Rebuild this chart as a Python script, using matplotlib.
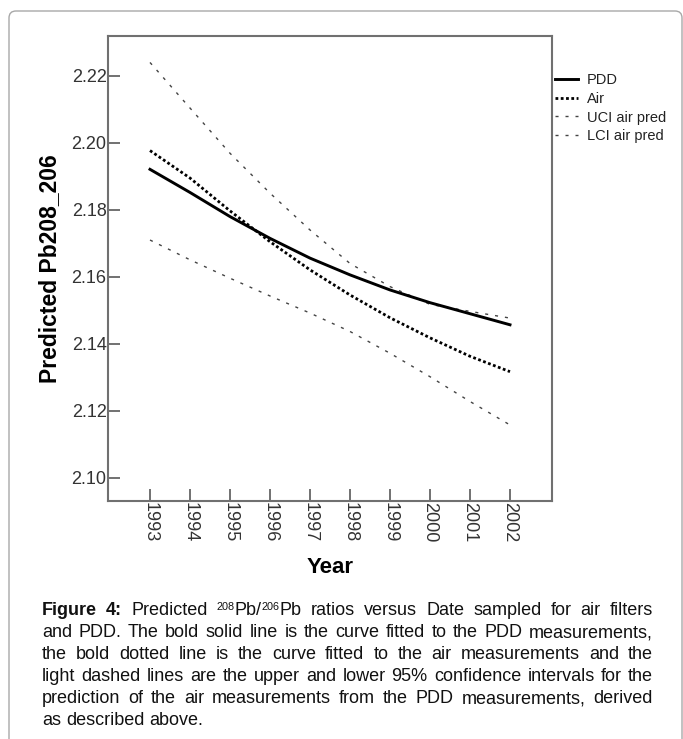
import matplotlib
matplotlib.use("Agg")
import matplotlib.pyplot as plt
from matplotlib.patches import FancyBboxPatch
from matplotlib.transforms import IdentityTransform

# ---------------- data ----------------
years = [1993, 1994, 1995, 1996, 1997, 1998, 1999, 2000, 2001, 2002]
pdd = [2.1921, 2.1852, 2.1780, 2.1715, 2.1656, 2.1606, 2.1561, 2.1523, 2.1490, 2.1457]
air = [2.1977, 2.1895, 2.1797, 2.1705, 2.1621, 2.1546, 2.1478, 2.1418, 2.1363, 2.1317]
uci = [2.2240, 2.2104, 2.1969, 2.1850, 2.1740, 2.1640, 2.1571, 2.1518, 2.1497, 2.1477]
lci = [2.1710, 2.1651, 2.1596, 2.1543, 2.1492, 2.1437, 2.1372, 2.1302, 2.1228, 2.1158]
yticks = [2.10, 2.12, 2.14, 2.16, 2.18, 2.20, 2.22]
series_labels = ["PDD", "Air", "UCI air pred", "LCI air pred"]

# caption: words, each word a list of segments (text, bold, superscript)
caption_lines = [
    [[("Figure", True, False)], [("4:", True, False)], [("Predicted", False, False)],
     [("208", False, True), ("Pb/", False, False), ("206", False, True), ("Pb", False, False)],
     "ratios versus Date sampled for air filters"],
    "and PDD. The bold solid line is the curve fitted to the PDD measurements,",
    "the bold dotted line is the curve fitted to the air measurements and the",
    "light dashed lines are the upper and lower 95% confidence intervals for the",
    "prediction of the air measurements from the PDD measurements, derived",
    "as described above.",
]

plt.rcParams["font.family"] = ["Liberation Sans", "DejaVu Sans"]

W, H = 683, 739
fig = plt.figure(figsize=(W / 100, H / 100), dpi=100)

# outer rounded frame
frame = FancyBboxPatch((9, -30), 673, H - 11 + 30,
                       boxstyle="round,pad=0,rounding_size=7",
                       transform=IdentityTransform(), fill=False,
                       edgecolor="#a8a8a8", linewidth=1.0)
fig.patches.append(frame)

# axes: left 108, right 552, top 36, bottom 501 (pixels)
ax = fig.add_axes([108 / W, (H - 501) / H, 444 / W, 465 / H])

ax.plot(years, pdd, color="black", lw=2.1, zorder=4, label=series_labels[0])
ax.plot(years, air, color="black", lw=2.0, dashes=(1.0, 0.9),
        dash_capstyle="butt", zorder=3, label=series_labels[1])
ax.plot(years, uci, color="#444444", lw=1.0, dashes=(2.2, 5.0),
        zorder=2, label=series_labels[2])
ax.plot(years, lci, color="#444444", lw=1.0, dashes=(2.2, 5.0),
        zorder=2, label=series_labels[3])

ax.set_xlim(1991.95, 2003.05)
ax.set_ylim(2.0931, 2.2319)
ax.set_xticks(years)
ax.set_xticklabels([str(y) for y in years], rotation=-90, fontsize=13,
                   color="#333333")
ax.set_yticks(yticks)
ax.set_yticklabels(["%.2f" % v for v in yticks], fontsize=13, color="#333333")
ax.tick_params(axis="both", direction="in", length=8.6, width=1.3,
               color="#666666", pad=1)

for sp in ax.spines.values():
    sp.set_color("#707070")
    sp.set_linewidth(1.5)

ax.set_xlabel("Year", fontsize=16, fontweight="bold", labelpad=10)
ax.set_ylabel("Predicted Pb208_206", fontsize=16.5, fontweight="bold")
ax.yaxis.set_label_coords(-(108 - 61) / 444, 0.5)

leg = ax.legend(loc="upper left", bbox_to_anchor=(1.007, 0.92), frameon=False,
                fontsize=10.5, handlelength=1.58, handletextpad=0.62,
                labelspacing=0.32, borderpad=0, borderaxespad=0)
for t in leg.get_texts():
    t.set_color("#222222")

# ---------------- justified caption ----------------
renderer = fig.canvas.get_renderer()
x_left, x_right = 42, 653
baselines = [615, 637, 659, 681, 703, 725]
fs = 13.0
for i, line in enumerate(caption_lines):
    if isinstance(line, str):
        words = [[(w, False, False)] for w in line.split(" ")]
    else:
        words = []
        for w in line:
            if isinstance(w, str):
                words += [[(s, False, False)] for s in w.split(" ")]
            else:
                words.append(w)
    groups = []
    for segs in words:
        parts = []
        for s, bold, sup in segs:
            t = fig.text(0, 0, s, fontsize=fs * 0.6 if sup else fs,
                         fontweight="bold" if bold else "normal",
                         color="#111111", va="baseline", ha="left",
                         transform=IdentityTransform())
            parts.append((t, t.get_window_extent(renderer).width, sup))
        groups.append(parts)
    widths = [sum(p[1] for p in g) for g in groups]
    if i < len(caption_lines) - 1:
        gap = (x_right - x_left - sum(widths)) / (len(groups) - 1)
    else:
        gap = fs * 0.278 * 100 / 72
    x = x_left
    for g, wd in zip(groups, widths):
        xx = x
        for t, pw, sup in g:
            t.set_position((xx, H - baselines[i] + (5.5 if sup else 0)))
            xx += pw
        x += wd + gap

fig.savefig("out.png", dpi=100)
